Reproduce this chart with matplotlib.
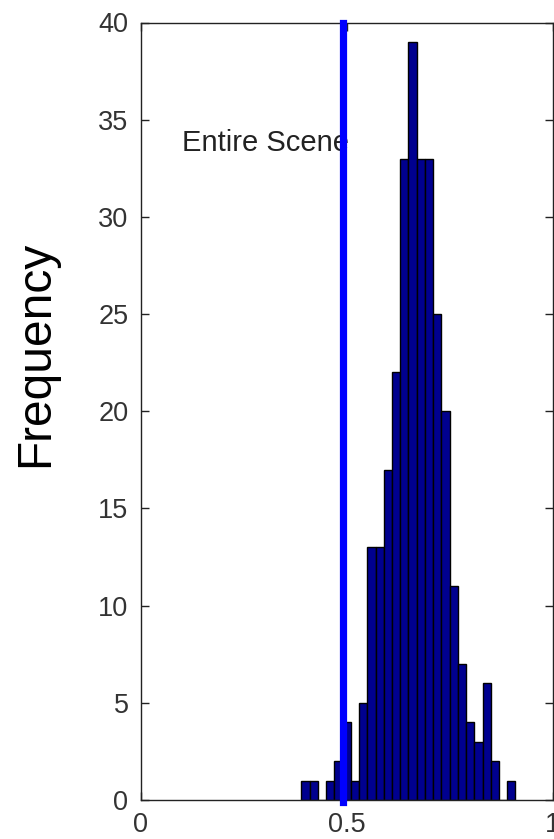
import matplotlib
matplotlib.use("Agg")
import matplotlib.pyplot as plt

# Histogram of index values over the entire scene
bin_centers = [0.40, 0.42, 0.44, 0.46, 0.48, 0.50, 0.52, 0.54, 0.56, 0.58,
               0.60, 0.62, 0.64, 0.66, 0.68, 0.70, 0.72, 0.74, 0.76, 0.78,
               0.80, 0.82, 0.84, 0.86, 0.88, 0.90]
counts = [1, 1, 0, 1, 2, 4, 1, 5, 13, 13,
          17, 22, 33, 39, 33, 33, 25, 20, 11, 7,
          4, 3, 6, 2, 0, 1]
bin_width = 0.02
threshold = 0.49

x_ticks = [0, 0.5, 1]
x_tick_labels = ["0", "0.5", "1"]
y_ticks = [0, 5, 10, 15, 20, 25, 30, 35, 40]
y_tick_labels = [str(v) for v in y_ticks]

plt.rcParams["font.family"] = ["Liberation Sans", "DejaVu Sans"]

fig = plt.figure(figsize=(5.54, 8.39), dpi=100)
ax = fig.add_axes([141 / 554, 39 / 839, 411.5 / 554, 777.5 / 839])

ax.bar(bin_centers, counts, width=bin_width, color=(0, 0, 0.56),
       edgecolor="black", linewidth=1.0, zorder=2)
ax.axvline(threshold, color=(0, 0, 1), linewidth=5.2, zorder=4, clip_on=False,
           ymin=-0.003)

ax.text(0.10, 33.8, "Entire Scene", fontsize=21, color="#222222",
        ha="left", va="center", zorder=3)

ax.set_xlim(0, 1)
ax.set_ylim(0, 40)
ax.set_xticks(x_ticks)
ax.set_xticklabels(x_tick_labels)
ax.set_yticks(y_ticks)
ax.set_yticklabels(y_tick_labels)

ax.tick_params(direction="in", length=5.5, width=1.0, color="#222222",
               labelsize=19.5, labelcolor="#333333",
               top=True, right=True)
ax.tick_params(axis="x", pad=9)
ax.tick_params(axis="y", pad=9)
for spine in ax.spines.values():
    spine.set_linewidth(1.0)
    spine.set_color("#222222")

fig.text(36 / 554, 1 - 353.5 / 839, "Frequency", rotation=90,
         fontsize=34.5, ha="center", va="center", color="black")

fig.savefig("out.png", dpi=100, facecolor="white")
